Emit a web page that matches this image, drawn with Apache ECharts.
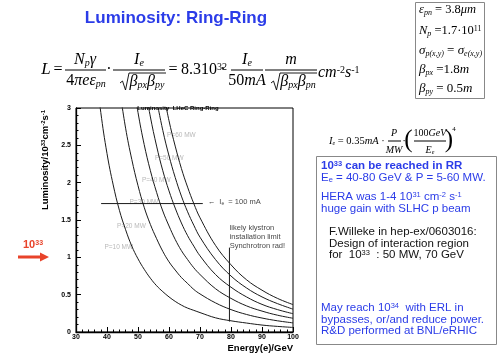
<!DOCTYPE html>
<html>
<head>
<meta charset="utf-8">
<script src="https://cdn.jsdelivr.net/npm/echarts@6/dist/echarts.min.js"></script>
<style>
  html, body { margin: 0; padding: 0; background: #fff; }
  #main { width: 497px; height: 357px; }
</style>
</head>
<body>
<div id="main"></div>
<script>
// electron beam energy (GeV) and luminosity (10^33 cm^-2 s^-1) per power
const energy = [36, 38, 40, 42, 44, 46, 48, 50, 52, 54, 56, 58, 60, 62, 64, 66, 68, 70, 75, 80, 85, 90, 95, 100];
const lumiP10 = [3.64, 2.94, 2.39, 1.97, 1.63, 1.37, 1.15, 0.98, 0.84, 0.72, 0.62, 0.54, 0.47, 0.41, 0.36, 0.32, 0.29, 0.26, 0.19, 0.15, 0.12, 0.093, 0.075, 0.061];
const lumiP20 = [null, null, null, null, 3.27, 2.73, 2.31, 1.96, 1.67, 1.44, 1.25, 1.08, 0.94, 0.83, 0.73, 0.65, 0.57, 0.51, 0.39, 0.30, 0.235, 0.187, 0.150, 0.122];
const lumiP30 = [null, null, null, null, null, null, 3.46, 2.94, 2.51, 2.16, 1.87, 1.62, 1.42, 1.24, 1.09, 0.97, 0.86, 0.77, 0.58, 0.45, 0.35, 0.28, 0.225, 0.184];
const lumiP40 = [null, null, null, null, null, null, null, null, 3.35, 2.88, 2.49, 2.16, 1.89, 1.66, 1.46, 1.29, 1.15, 1.02, 0.77, 0.60, 0.47, 0.37, 0.30, 0.245];
const lumiP50 = [null, null, null, null, null, null, null, null, null, null, 3.11, 2.70, 2.36, 2.07, 1.82, 1.61, 1.43, 1.27, 0.97, 0.75, 0.59, 0.47, 0.38, 0.306];
const lumiP60 = [null, null, null, null, null, null, null, null, null, null, null, 3.25, 2.83, 2.49, 2.19, 1.94, 1.72, 1.53, 1.16, 0.90, 0.70, 0.56, 0.45, 0.367];
const powerCurves = [lumiP10, lumiP20, lumiP30, lumiP40, lumiP50, lumiP60];

// curve labels
const powerNames = ["P=10 MW", "P=20 MW", "P=30 MW", "P=40 MW", "P=50 MW", "P=60 MW"];
const powerLabelE = [39.0, 43.1, 47.1, 51.1, 55.3, 59.2];
const powerLabelL = [1.13, 1.42, 1.74, 2.03, 2.33, 2.63];

// I_e = 100 mA line and synchrotron limit line
const currentLineE = [38.1, 70.9];
const currentLineL = [1.72, 1.72];
const limitLineE = [79.5, 79.5];
const limitLineL = [0.14, 1.13];

const xTicks = [30, 40, 50, 60, 70, 80, 90, 100];
const yTicks = [0, 0.5, 1, 1.5, 2, 2.5, 3];

const sans = '"Liberation Sans", Arial, sans-serif';
const serif = '"Liberation Serif", "DejaVu Serif", serif';
const blue = "#2b3ce8";
const red = "#e8432a";

const chart = echarts.init(document.getElementById("main"), null, { renderer: "canvas" });

const curveSeries = powerCurves.map(function (vals, k) {
  const pts = [];
  energy.forEach(function (e, i) {
    if (vals[i] != null) pts.push([e, vals[i]]);
  });
  return {
    name: powerNames[k],
    type: "line",
    data: pts,
    smooth: 0.4,
    symbol: "none",
    silent: true,
    clip: true,
    lineStyle: { color: "#1a1a1a", width: 1 },
  };
});

// math helpers for the slide formulas
function mathRich(size) {
  const sub = Math.round(size * 0.6);
  return {
    i: { fontFamily: serif, fontStyle: "italic", fontSize: size },
    n: { fontFamily: serif, fontStyle: "normal", fontSize: size },
    s: { fontFamily: serif, fontStyle: "italic", fontSize: sub, verticalAlign: "bottom" },
    u: { fontFamily: serif, fontStyle: "normal", fontSize: sub, verticalAlign: "top" },
  };
}
function mtext(x, y, text, extra) {
  const size = (extra && extra.fontSize) || 16;
  return {
    type: "text", x: x, y: y, silent: true,
    style: Object.assign({
      text: text, fill: "#000", fontFamily: serif, fontStyle: "italic", fontSize: 16,
      align: "center", verticalAlign: "middle", rich: mathRich(size),
    }, extra || {}),
  };
}
function bar(x1, x2, y) {
  return { type: "line", silent: true, shape: { x1: x1, y1: y, x2: x2, y2: y }, style: { stroke: "#000", lineWidth: 1 } };
}
function radical(x0, x1, top) {
  return {
    type: "polyline", silent: true,
    shape: { points: [[x0, top + 10], [x0 + 2.5, top + 8], [x0 + 5.5, top + 17], [x0 + 9, top], [x1, top]] },
    style: { stroke: "#000", lineWidth: 0.9, fill: null },
  };
}
const sansRich = {
  su: { fontFamily: sans, fontSize: 7.5, verticalAlign: "top" },
  sb: { fontFamily: sans, fontSize: 7.5, verticalAlign: "bottom" },
};
function stext(x, y, text, color, extra) {
  return {
    type: "text", x: x, y: y, silent: true,
    style: Object.assign({
      text: text, fill: color, fontFamily: sans, fontSize: 11.5,
      align: "left", verticalAlign: "middle", rich: sansRich,
    }, extra || {}),
  };
}

const graphics = [
  // slide title
  stext(176, 18, "Luminosity: Ring-Ring", blue, { fontSize: 17, fontWeight: "bold", align: "center" }),

  // main luminosity formula
  mtext(46, 70, "L", { fontSize: 17 }),
  mtext(58, 70, "=", { fontStyle: "normal" }),
  mtext(85, 60, "N{s|p}γ"),
  bar(65, 106, 70),
  mtext(86, 81, "{n|4}πeε{s|pn}"),
  mtext(109, 70, "·", { fontStyle: "normal" }),
  mtext(139, 60, "I{s|e}"),
  bar(113, 165, 70),
  radical(120, 166, 73),
  mtext(147, 82, "β{s|px}β{s|py}"),
  mtext(173, 70, "=", { fontStyle: "normal" }),
  mtext(181, 70, "8.310{u|32}", { fontStyle: "normal", align: "left" }),
  mtext(223, 70, "·", { fontStyle: "normal" }),
  mtext(247, 60, "I{s|e}"),
  bar(231, 263, 70),
  mtext(247, 81, "{n|50}mA"),
  mtext(291, 60, "m"),
  bar(265, 317, 70),
  radical(271, 317, 73),
  mtext(298, 82, "β{s|px}β{s|pn}"),
  mtext(318, 73, "cm{u|-2}s{u|-1}", { align: "left" }),

  // parameter box
  { type: "rect", silent: true, shape: { x: 415.5, y: 2.5, width: 69, height: 96 }, style: { fill: "#fff", stroke: "#888", lineWidth: 1 } },
  mtext(419, 10, "ε{s|pn}{n| = 3.8}μm", { align: "left", fontSize: 12.5 }),
  mtext(419, 31, "N{s|p}{n| =1.7·10}{u|11}", { align: "left", fontSize: 12.5 }),
  mtext(419, 51, "σ{s|p(x,y)}{n| = }σ{s|e(x,y)}", { align: "left", fontSize: 13 }),
  mtext(419, 70, "β{s|px}{n| =1.8}m", { align: "left", fontSize: 13 }),
  mtext(419, 89, "β{s|py}{n| = 0.5}m", { align: "left", fontSize: 13 }),

  // electron current formula
  mtext(329, 141, "I{s|e}{n| = 0.35}mA{n| ·}", { align: "left", fontSize: 10.5 }),
  mtext(394, 133, "P", { fontSize: 10 }),
  bar(388, 401, 141),
  mtext(394, 150, "MW", { fontSize: 10 }),
  mtext(404, 141, "·", { fontStyle: "normal", fontSize: 11 }),
  mtext(408.5, 140, "(", { fontStyle: "normal", fontSize: 25 }),
  mtext(430, 133, "{n|100}GeV", { fontSize: 10 }),
  bar(414, 446, 141),
  mtext(430, 150, "E{s|e}", { fontSize: 10 }),
  mtext(449, 140, ")", { fontStyle: "normal", fontSize: 25 }),
  mtext(454, 129, "4", { fontStyle: "normal", fontSize: 7 }),

  // comment box
  { type: "rect", silent: true, shape: { x: 316.5, y: 156.5, width: 180, height: 188 }, style: { fill: "#fff", stroke: "#888", lineWidth: 1 } },
  stext(321, 166, "10{su|33} can be reached in RR", blue, { fontWeight: "bold", rich: { su: { fontFamily: sans, fontSize: 7.5, fontWeight: "bold", verticalAlign: "top" } } }),
  stext(321, 177.5, "E{sb|e} = 40-80 GeV & P = 5-60 MW.", blue),
  stext(321, 197, "HERA was 1-4 10{su|31} cm{su|-2} s{su|-1}", blue),
  stext(321, 208.5, "huge gain with SLHC p beam", blue),
  stext(329, 232, "F.Willeke in hep-ex/0603016:", "#111"),
  stext(329, 243.5, "Design of interaction region", "#111"),
  stext(329, 255, "for  10{su|33}  : 50 MW, 70 GeV", "#111"),
  stext(321, 308, "May reach 10{su|34}  with ERL in", blue),
  stext(321, 319.5, "bypasses, or/and reduce power.", blue),
  stext(321, 331, "R&D performed at BNL/eRHIC", blue),

  // red marker at 10^33
  stext(23, 245, "10{su|33}", red, { fontWeight: "bold", fontSize: 11, rich: { su: { fontFamily: sans, fontSize: 7, fontWeight: "bold", verticalAlign: "top" } } }),
  {
    type: "polygon", silent: true,
    shape: { points: [[18, 255.6], [40, 255.6], [40, 252.5], [49, 257], [40, 261.5], [40, 258.4], [18, 258.4]] },
    style: { fill: red },
  },

  // axis names
  {
    type: "text", x: 45, y: 160, rotation: Math.PI / 2, silent: true,
    style: {
      text: "Luminosity/10{u|33}cm{u|-2}s{u|-1}", fill: "#000", fontFamily: sans, fontSize: 9.5, fontWeight: "bold",
      align: "center", verticalAlign: "middle",
      rich: { u: { fontFamily: sans, fontSize: 6, fontWeight: "bold", verticalAlign: "top" } },
    },
  },
  stext(293, 348, "Energy(e)/GeV", "#000", { fontSize: 9.5, fontWeight: "bold", align: "right" }),
];

const option = {
  animation: false,
  backgroundColor: "#fff",
  title: {
    text: "Luminosity  LHeC Ring-Ring",
    left: 173,
    top: 100,
    textAlign: "center",
    textStyle: { fontFamily: sans, fontSize: 6, fontWeight: "bold", color: "#000" },
  },
  grid: {
    left: 76,
    top: 108,
    right: 204,
    bottom: 25,
    show: true,
    borderColor: "#000",
    borderWidth: 1,
    backgroundColor: "transparent",
  },
  xAxis: {
    type: "value",
    min: xTicks[0],
    max: xTicks[xTicks.length - 1],
    interval: 10,
    axisLine: { show: true, lineStyle: { color: "#000", width: 1.3 } },
    axisTick: { show: true, inside: true, length: 5, lineStyle: { color: "#000" } },
    minorTick: { show: true, splitNumber: 5, length: 2.5, lineStyle: { color: "#000" } },
    axisLabel: { fontFamily: sans, fontSize: 7, fontWeight: "bold", color: "#000", margin: 2 },
    splitLine: { show: false },
  },
  yAxis: {
    type: "value",
    min: yTicks[0],
    max: yTicks[yTicks.length - 1],
    interval: 0.5,
    axisLine: { show: true, lineStyle: { color: "#000", width: 1.3 } },
    axisTick: { show: true, inside: true, length: 5, lineStyle: { color: "#000" } },
    minorTick: { show: true, splitNumber: 5, length: 2.5, lineStyle: { color: "#000" } },
    axisLabel: { fontFamily: sans, fontSize: 7, fontWeight: "bold", color: "#000", margin: 5 },
    splitLine: { show: false },
  },
  series: curveSeries.concat([
    {
      type: "line",
      data: currentLineE.map(function (e, i) { return [e, currentLineL[i]]; }),
      symbol: "none",
      silent: true,
      lineStyle: { color: "#1a1a1a", width: 1 },
    },
    {
      type: "line",
      data: limitLineE.map(function (e, i) { return [e, limitLineL[i]]; }),
      symbol: "none",
      silent: true,
      lineStyle: { color: "#1a1a1a", width: 1 },
    },
    {
      type: "scatter",
      silent: true,
      symbolSize: 1,
      itemStyle: { color: "rgba(0,0,0,0)" },
      data: powerNames.map(function (n, i) { return { name: n, value: [powerLabelE[i], powerLabelL[i]] }; }),
      label: {
        show: true,
        position: "right",
        distance: 0,
        formatter: "{b}",
        fontFamily: sans,
        fontSize: 6.5,
        color: "#a8a8a8",
      },
    },
    {
      type: "scatter",
      silent: true,
      symbolSize: 1,
      itemStyle: { color: "rgba(0,0,0,0)" },
      data: [
        { value: [72.3, 1.74], label: { formatter: "←  I{s|e}  = 100 mA" } },
        { value: [79.4, 1.27], label: { formatter: "likely klystron\ninstallation limit\nSynchrotron rad!", lineHeight: 9 } },
      ],
      label: {
        show: true,
        position: "right",
        distance: 0,
        fontFamily: sans,
        fontSize: 7.5,
        color: "#111",
        rich: { s: { fontFamily: sans, fontSize: 5, verticalAlign: "bottom" } },
      },
    },
  ]),
  graphic: graphics,
};

chart.setOption(option);
</script>
</body>
</html>
